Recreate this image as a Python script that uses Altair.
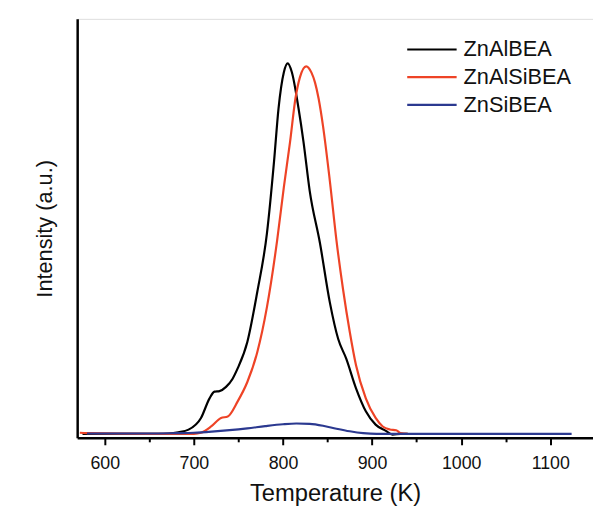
import altair as alt
import pandas as pd

series = ["ZnAlBEA", "ZnAlSiBEA", "ZnSiBEA"]
colors = ["#000000", "#EE4326", "#2B3990"]

black_T = [575, 620, 660, 672, 682.5, 694, 708, 717.6, 723.2, 728.7, 736.1, 743.5, 749, 760, 771, 782,
           790, 795, 801, 805.3, 810, 817.5, 823, 830, 841.5, 852.6, 862, 871, 882, 893, 904,
           915.5, 923, 932, 940]
black_I = [0.0, 0.0, 0.0, 0.001, 0.0045, 0.0115, 0.043, 0.096, 0.114, 0.1155, 0.127, 0.149, 0.176,
           0.248, 0.381, 0.541, 0.736, 0.878, 0.976, 1.0, 0.976, 0.878, 0.789, 0.656, 0.515,
           0.355, 0.256, 0.203, 0.123, 0.061, 0.025, 0.008, -0.002, 0.0, 0.0]

red_T = [572, 580, 650, 700, 708, 719.4, 730.5, 738, 749, 760, 771, 782, 793.5, 801, 808, 814,
         819, 826, 832, 836, 840, 845, 852.6, 860, 867.5, 875, 882, 893, 904, 912, 920, 927, 932, 940]
red_I = [0.003, 0.002, 0.0, 0.0, 0.003, 0.02, 0.043, 0.047, 0.087, 0.14, 0.219, 0.342, 0.523,
         0.666, 0.789, 0.905, 0.962, 0.992, 0.975, 0.948, 0.905, 0.83, 0.683, 0.523, 0.389, 0.275,
         0.185, 0.096, 0.043, 0.02, 0.012, 0.01, 0.002, 0.0]

blue_T = [580, 650, 680, 700, 720, 740, 760, 780, 800, 815, 830, 845, 860, 875, 890, 905, 950,
          1000, 1050, 1124]
blue_I = [0.001, 0.001, 0.002, 0.003, 0.006, 0.010, 0.015, 0.021, 0.026, 0.028, 0.027, 0.022,
          0.014, 0.007, 0.002, 0.0, 0.0, 0.0, 0.0, 0.0]

x_ticks = [600, 650, 700, 750, 800, 850, 900, 950, 1000, 1050, 1100]

rows = []
for name, T, I in zip(series, [black_T, red_T, blue_T], [black_I, red_I, blue_I]):
    for t, v in zip(T, I):
        rows.append({"series": name, "T": t, "I": v})
df = pd.DataFrame(rows)

FONT = "Liberation Sans"

chart = alt.Chart(df).mark_line(interpolate="monotone").encode(
    x=alt.X("T:Q",
            scale=alt.Scale(domain=[569, 1148], nice=False, zero=False),
            axis=alt.Axis(values=x_ticks, format="d",
                          labelExpr="datum.value % 100 === 0 ? datum.label : ''",
                          tickSize={"condition": {"test": "datum.value % 100 === 0", "value": 7}, "value": 4},
                          labelPadding=10, labelFontSize=18, labelFont=FONT, labelColor="#111111",
                          labelFlush=False, labelOverlap=False,
                          title="Temperature (K)", titleFontSize=24, titleFontWeight="normal",
                          titleFont=FONT, titleColor="#111111",
                          titleY=63, titleBaseline="alphabetic",
                          grid=False, domainWidth=2.5, domainColor="#000000",
                          tickWidth=2, tickColor="#000000")),
    y=alt.Y("I:Q",
            scale=alt.Scale(domain=[-0.0107, 1.12], nice=False, zero=False),
            axis=alt.Axis(ticks=False, labels=False, grid=False,
                          title="Intensity (a.u.)", titleFontSize=22, titleFontWeight="normal",
                          titleFont=FONT, titleColor="#111111",
                          titleX=-26, titleBaseline="alphabetic",
                          domainWidth=2.5, domainColor="#000000")),
    color=alt.Color("series:N",
                    scale=alt.Scale(domain=series, range=colors),
                    legend=alt.Legend(orient="none", legendX=348, legendY=20, title=None,
                                      symbolType="M-5,0H5", symbolSize=100, symbolStrokeWidth=2.5,
                                      labelFontSize=22, labelFont=FONT, labelColor="#111111",
                                      labelOffset=21, rowPadding=6, padding=0, labelLimit=300)),
    strokeWidth=alt.StrokeWidth("series:N",
                                scale=alt.Scale(domain=series, range=[2.2, 2.2, 2.8]),
                                legend=None),
    order=alt.Order("T:Q"),
).properties(
    width=522, height=424,
    autosize=alt.AutoSizeParams(type="none"),
    padding={"left": 70, "top": 8, "right": 0, "bottom": 70},
).configure_view(strokeWidth=0).configure(background="white")

chart.save("out.html", embed_options={"renderer": "svg", "actions": False})
